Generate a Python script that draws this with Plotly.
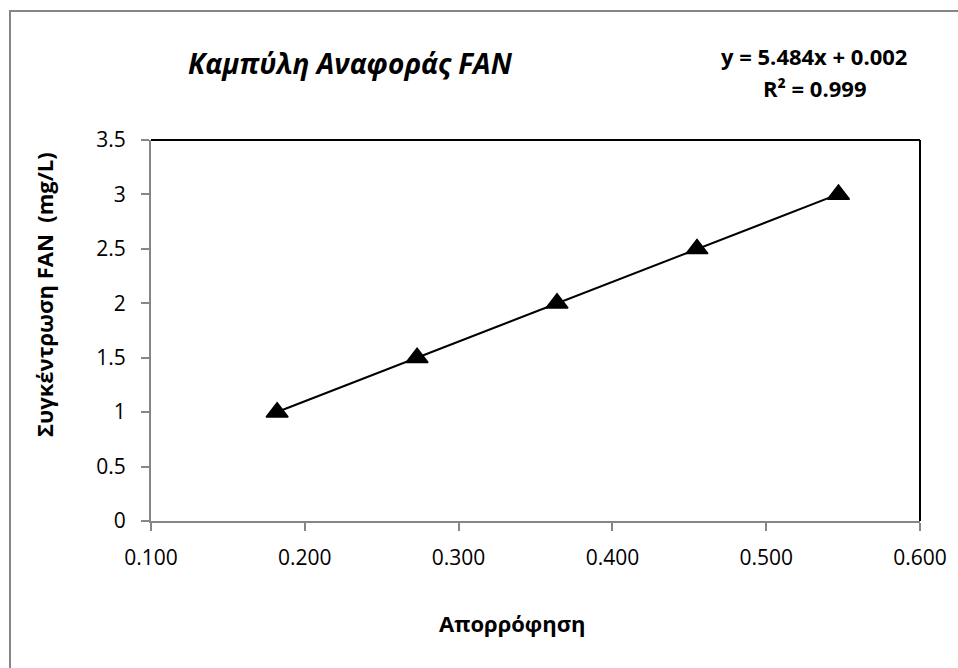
import numpy as np
import plotly.graph_objects as go

# Data
absorbance = [0.182, 0.273, 0.364, 0.455, 0.547]
concentration = [1.0, 1.5, 2.0, 2.5, 3.0]
x_ticks = [0.1, 0.2, 0.3, 0.4, 0.5, 0.6]
x_tick_labels = ["0.100", "0.200", "0.300", "0.400", "0.500", "0.600"]
y_ticks = [0, 0.5, 1, 1.5, 2, 2.5, 3, 3.5]
y_tick_labels = ["0", "0.5", "1", "1.5", "2", "2.5", "3", "3.5"]

title_text = "Καμπύλη Αναφοράς FAN"
x_title = "Απορρόφηση"
y_title = "Συγκέντρωση FAN  (mg/L)"
eq_line1 = "y = 5.484x + 0.002"
eq_line2 = "R² = 0.999"

FONT = "Open Sans, Noto Sans, DejaVu Sans, sans-serif"
GRAY = "#868686"

slope, intercept = np.polyfit(absorbance, concentration, 1)
trend_x = [min(absorbance), max(absorbance)]
trend_y = [slope * v + intercept for v in trend_x]

fig = go.Figure()
fig.add_trace(go.Scatter(
    x=trend_x, y=trend_y, mode="lines",
    line=dict(color="black", width=2),
    hoverinfo="skip", showlegend=False,
))
fig.add_trace(go.Scatter(
    x=absorbance, y=concentration, mode="markers",
    marker=dict(symbol="triangle-up", size=19, color="black",
                line=dict(color="black", width=1.5)),
    showlegend=False,
))

W, H = 958, 668
L, R, T, B = 151, 38, 140, 147
pw, ph = W - L - R, H - T - B

def px(xp):
    return (xp - L) / pw

def py(yp):
    return (H - B - yp) / ph

fig.update_layout(
    width=W, height=H,
    margin=dict(l=L, r=R, t=T, b=B),
    paper_bgcolor="white", plot_bgcolor="white",
    font=dict(family=FONT, color="black"),
    xaxis=dict(
        range=[0.1, 0.6], tickvals=x_ticks, ticktext=x_tick_labels,
        showgrid=False, zeroline=False,
        showline=True, linecolor=GRAY, linewidth=2,
        ticks="outside", ticklen=8, tickcolor=GRAY, tickwidth=2,
        tickfont=dict(size=21, family=FONT, color="black"),
        ticklabelstandoff=9,
    ),
    yaxis=dict(
        range=[0, 3.5], tickvals=y_ticks, ticktext=y_tick_labels,
        showgrid=False, zeroline=False,
        showline=True, linecolor=GRAY, linewidth=2,
        ticks="outside", ticklen=8, tickcolor=GRAY, tickwidth=2,
        tickfont=dict(size=21, family=FONT, color="black"),
        ticklabelstandoff=11,
    ),
    shapes=[
        # outer chart border (top and left visible)
        dict(type="rect", xref="paper", yref="paper",
             x0=px(10), x1=px(1100), y0=py(900), y1=py(11),
             line=dict(color=GRAY, width=2), layer="below"),
        # top border of plot area
        dict(type="line", xref="paper", yref="paper",
             x0=0, x1=1, y0=1, y1=1, line=dict(color="black", width=2)),
        # right border of plot area
        dict(type="line", xref="paper", yref="paper",
             x0=1, x1=1, y0=0, y1=1, line=dict(color="black", width=2)),
    ],
    annotations=[
        dict(text="<b><i>" + title_text + "</i></b>", xref="paper", yref="paper",
             x=px(350), y=py(63), xanchor="center", yanchor="middle",
             showarrow=False, font=dict(size=28, family=FONT, color="black")),
        dict(text="<b>" + eq_line1 + "</b>", xref="paper", yref="paper",
             x=px(814), y=py(56), xanchor="center", yanchor="middle",
             showarrow=False, font=dict(size=22, family=FONT, color="black")),
        dict(text="<b>" + eq_line2 + "</b>", xref="paper", yref="paper",
             x=px(814), y=py(88), xanchor="center", yanchor="middle",
             showarrow=False, font=dict(size=22, family=FONT, color="black")),
        dict(text="<b>" + x_title + "</b>", xref="paper", yref="paper",
             x=px(512), y=py(623), xanchor="center", yanchor="middle",
             showarrow=False, font=dict(size=22, family=FONT, color="black")),
        dict(text="<b>" + y_title + "</b>", xref="paper", yref="paper",
             x=px(44), y=py(295), xanchor="center", yanchor="middle", textangle=-90,
             showarrow=False, font=dict(size=22, family=FONT, color="black")),
    ],
)

fig.write_html("out.html")
